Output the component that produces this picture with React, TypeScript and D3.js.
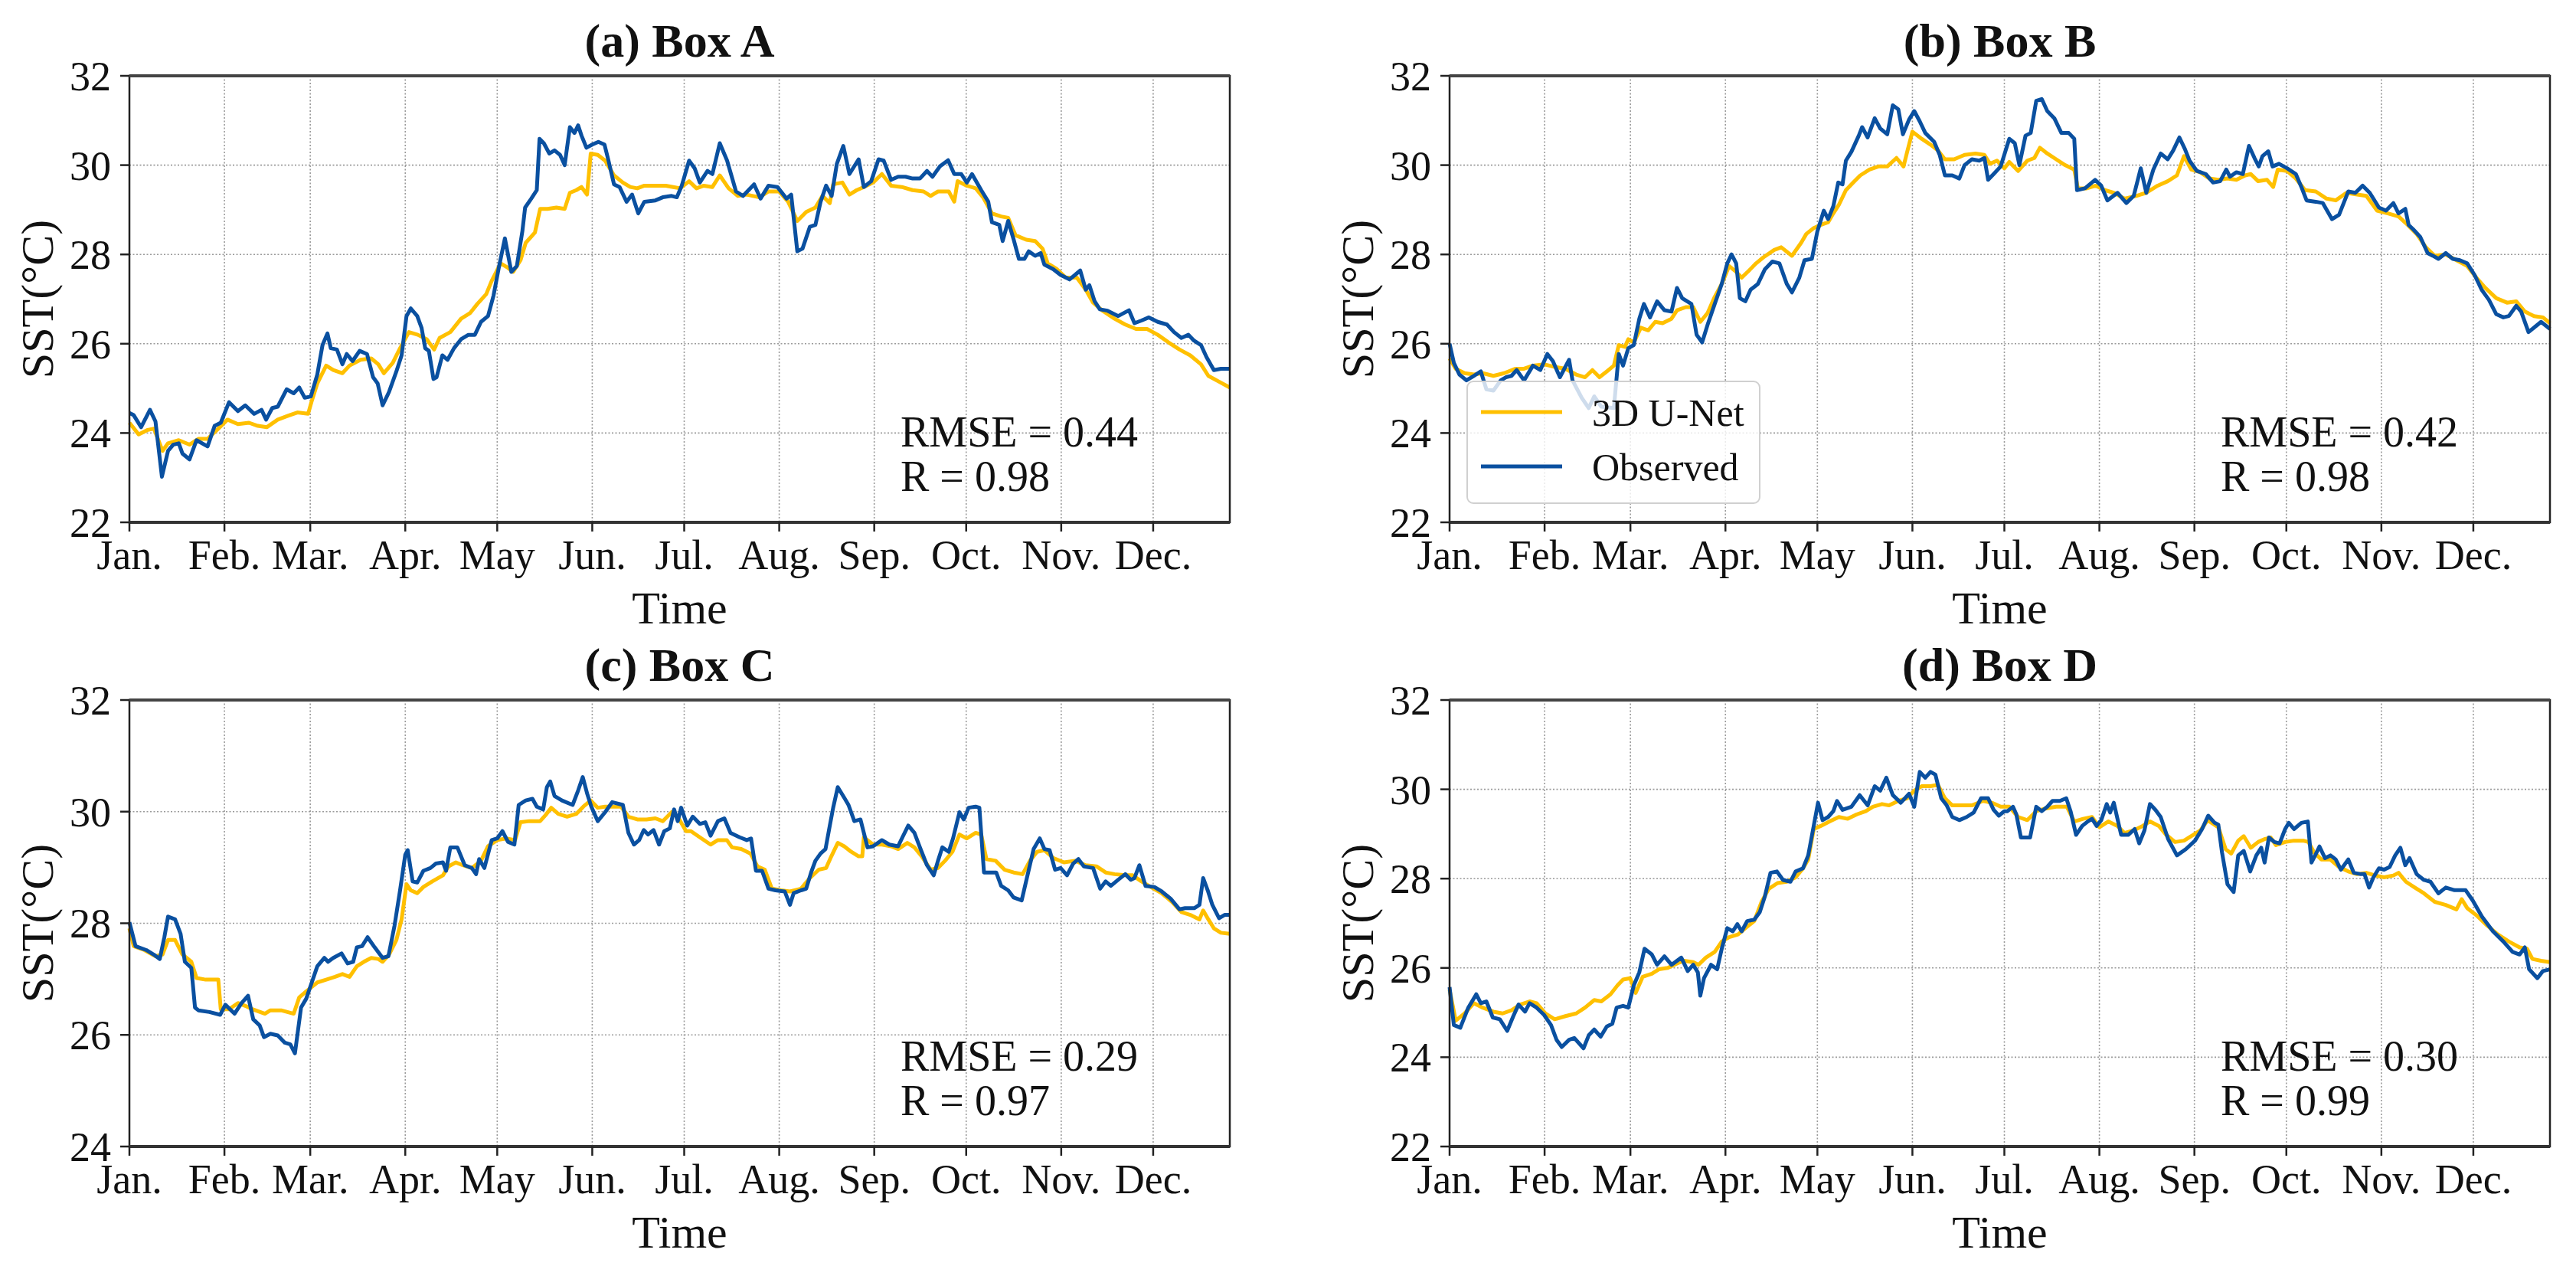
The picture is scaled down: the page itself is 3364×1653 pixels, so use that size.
// Four-panel SST comparison: 3D U-Net prediction vs observed, daily over one year.
import * as d3 from "d3";

type Pt = [number, number]; // [day of year, SST °C]

const MONTH_DAYS = [0, 31, 59, 90, 120, 151, 181, 212, 243, 273, 304, 334];
const MONTH_LABELS = ["Jan.", "Feb.", "Mar.", "Apr.", "May", "Jun.", "Jul.", "Aug.", "Sep.", "Oct.", "Nov.", "Dec."];
const LAST_DAY = 359;

const unetA: Pt[] = [[0,24.23],[3,23.97],[6,24.07],[8,24.1],[10.8,23.6],[12.6,23.77],[16.1,23.84],[19.6,23.74],[22.5,23.87],[25.5,23.87],[29,24.1],[32,24.3],[35.4,24.2],[39,24.23],[41.9,24.16],[44.8,24.13],[48.4,24.3],[51.9,24.39],[54.8,24.46],[58.3,24.43],[59.5,24.72],[61.3,25.11],[64.2,25.51],[66.5,25.41],[69.5,25.34],[71.8,25.51],[75.4,25.64],[78.9,25.67],[81.2,25.54],[83,25.34],[85.9,25.57],[88.3,25.9],[91.2,26.26],[94.1,26.2],[97,26.1],[99.4,25.87],[101.2,26.13],[104.7,26.26],[108.2,26.56],[111.2,26.69],[113.5,26.89],[116.4,27.11],[118.2,27.41],[121.1,27.8],[123.5,27.7],[125.2,27.61],[127.6,27.87],[129.3,28.26],[132.3,28.49],[134,29.02],[136.4,29.02],[139.3,29.05],[142,29.02],[143.7,29.38],[145.8,29.44],[147.5,29.51],[149.3,29.34],[150.5,30.26],[152.8,30.23],[155.2,30.1],[158.1,29.77],[161,29.61],[163.4,29.51],[165.7,29.48],[168,29.54],[171.6,29.54],[175,29.54],[177.4,29.51],[179.7,29.48],[182.6,29.64],[185,29.48],[187.4,29.54],[190.2,29.51],[192.6,29.77],[195.5,29.48],[198.5,29.31],[201.4,29.34],[205.5,29.28],[208.5,29.41],[212,29.41],[214.9,29.18],[217.9,28.75],[220.8,28.95],[223.8,29.05],[226.1,29.31],[228.5,29.15],[229.6,29.57],[232.6,29.61],[234.9,29.34],[237.3,29.44],[239.6,29.51],[242.6,29.61],[245.5,29.8],[248.5,29.54],[252,29.51],[255.5,29.44],[259.1,29.41],[261.4,29.31],[263.8,29.41],[267.3,29.41],[269.1,29.18],[270.2,29.64],[273.2,29.54],[276.1,29.48],[278.5,29.28],[281.4,28.92],[284.4,28.85],[286.7,28.82],[289.1,28.43],[292.6,28.33],[295.5,28.3],[297.9,28.13],[299.6,27.8],[302.6,27.67],[305.5,27.48],[309.1,27.48],[312,27.21],[314.4,26.92],[317.3,26.75],[321.4,26.56],[324.9,26.43],[328.4,26.33],[332,26.33],[335.5,26.2],[339,26.03],[342.6,25.87],[346.1,25.74],[349.6,25.54],[352,25.28],[355.5,25.15],[359,25.02]];
const obsA: Pt[] = [[0,24.45],[1.4,24.4],[3.8,24.13],[6.7,24.52],[8.5,24.26],[10.6,23.02],[12.6,23.6],[14.3,23.74],[16.1,23.77],[17.3,23.54],[19.6,23.41],[21.9,23.84],[25.5,23.7],[27.8,24.16],[29.8,24.23],[32.5,24.69],[35.4,24.49],[37.8,24.62],[40.7,24.43],[43.1,24.52],[44.6,24.3],[46.6,24.56],[48.4,24.59],[51.3,24.98],[53.6,24.89],[55.4,25.02],[57.2,24.79],[59.2,24.82],[61.3,25.31],[63,25.97],[64.6,26.23],[65.7,25.9],[67.7,25.87],[69.5,25.54],[70.9,25.77],[72.8,25.61],[75.1,25.84],[77.5,25.77],[79.5,25.25],[81,25.11],[82.6,24.62],[84.7,24.92],[87.1,25.38],[88.8,25.74],[90.4,26.62],[91.8,26.79],[93.9,26.62],[95.3,26.36],[96.5,25.9],[97.7,25.84],[99.2,25.21],[100.2,25.25],[102.1,25.74],[103.8,25.64],[105.9,25.9],[108.2,26.1],[110.6,26.2],[112.7,26.2],[114.7,26.49],[117,26.62],[118.8,27.08],[120.5,27.7],[122.5,28.36],[124.6,27.61],[126.4,27.74],[128.2,28.52],[129.1,29.05],[131.1,29.25],[132.9,29.44],[133.8,30.59],[135.2,30.49],[137,30.26],[138.7,30.33],[140.5,30.23],[142,30.0],[143.7,30.85],[145.2,30.72],[146.4,30.89],[147.5,30.66],[149.1,30.39],[151,30.46],[153,30.52],[155,30.46],[156.3,30.1],[158.1,29.57],[159.9,29.51],[162.2,29.18],[164,29.34],[166,28.92],[168,29.18],[171.6,29.21],[174,29.28],[176.9,29.31],[178.6,29.28],[180.2,29.54],[182.6,30.1],[184.4,29.93],[186.1,29.61],[188.6,29.87],[190.2,29.8],[192.6,30.49],[195,30.1],[197.9,29.41],[200.2,29.31],[203.8,29.57],[205.9,29.25],[208.5,29.54],[211.4,29.51],[214.4,29.25],[215.9,29.34],[217.9,28.07],[219.6,28.13],[222,28.62],[223.8,28.66],[225.5,29.18],[227.3,29.54],[229.1,29.31],[230.8,30.03],[232.9,30.43],[234.9,29.8],[237.9,30.13],[239.6,29.51],[242,29.64],[244.4,30.13],[246.1,30.1],[248.5,29.67],[250.8,29.74],[253.2,29.74],[255.5,29.7],[257.9,29.7],[260.2,29.87],[262,29.74],[264.4,29.97],[267.1,30.11],[269.1,29.8],[271.4,29.8],[273.2,29.61],[274.9,29.8],[277.9,29.44],[280.2,29.18],[281.4,28.72],[283.8,28.66],[284.9,28.3],[286.7,28.75],[288.5,28.33],[290.2,27.9],[292,27.9],[293.4,28.07],[295.5,27.97],[297.3,28.03],[298.5,27.77],[301.4,27.67],[303.8,27.54],[306.7,27.44],[308.5,27.54],[310.2,27.64],[312,27.21],[313.2,27.31],[314.9,26.95],[316.6,26.77],[319.1,26.74],[322.6,26.62],[326.1,26.75],[327.9,26.46],[330.2,26.52],[332.6,26.59],[335.5,26.49],[338.5,26.43],[340.8,26.26],[343.2,26.13],[345.5,26.2],[347.3,26.07],[349.6,25.97],[351.4,25.7],[353.8,25.41],[356.1,25.44],[359,25.44]];

const unetB: Pt[] = [[0,25.67],[2,25.44],[4.9,25.34],[7.9,25.31],[10.8,25.34],[14.3,25.28],[17.8,25.34],[21.4,25.44],[24.3,25.44],[27.2,25.51],[30.8,25.54],[34.3,25.48],[37.8,25.44],[41.3,25.31],[44.2,25.25],[46.6,25.41],[48.9,25.25],[51.3,25.38],[53.6,25.51],[55.2,25.97],[57.2,25.93],[58.3,26.1],[60.1,26.03],[62.4,26.36],[64.8,26.3],[67.1,26.49],[69.5,26.46],[72.4,26.56],[74.2,26.75],[77.1,26.82],[79.5,26.82],[81.8,26.49],[84.2,26.69],[86.5,27.05],[88.8,27.34],[91.2,27.74],[93.5,27.61],[95.3,27.48],[97.7,27.64],[100,27.8],[102.3,27.93],[105.9,28.1],[108.2,28.16],[111.7,27.97],[114.7,28.26],[116.4,28.46],[118.8,28.59],[121.1,28.66],[123.5,28.72],[125.2,28.92],[127,29.11],[129.3,29.44],[131.7,29.61],[134,29.77],[137,29.9],[139.9,29.97],[142.8,29.97],[145.8,30.16],[148.1,29.97],[149.3,30.3],[151,30.75],[154,30.59],[156.9,30.46],[159.3,30.33],[161.6,30.13],[164.6,30.13],[168,30.23],[171.6,30.26],[174.5,30.23],[176.3,30.03],[178.6,30.1],[181,29.93],[182.6,30.07],[185.5,29.87],[188.5,30.1],[190.8,30.16],[192.6,30.39],[195,30.26],[197.9,30.13],[200.8,30.0],[203.8,29.9],[205,29.48],[207.9,29.48],[210.8,29.54],[213.8,29.44],[216.7,29.38],[220.2,29.25],[224,29.31],[227.3,29.38],[231,29.54],[234.3,29.64],[237.3,29.77],[239.6,30.2],[242,29.9],[244.9,29.84],[247.9,29.7],[250.8,29.67],[253.8,29.7],[256.7,29.67],[259.6,29.77],[261.4,29.8],[263.8,29.64],[266.7,29.67],[268.7,29.51],[270.2,29.9],[273.2,29.87],[276.1,29.7],[279.1,29.44],[282.6,29.41],[286.1,29.25],[289.1,29.21],[292.6,29.38],[296.1,29.34],[299.1,29.31],[302.6,28.98],[306.1,28.92],[309.6,28.85],[312.6,28.66],[315.5,28.46],[318.5,28.16],[321.4,27.97],[325,28.0],[328.5,27.87],[332,27.74],[335,27.48],[337.9,27.25],[341.5,27.02],[345,26.92],[348,26.95],[350.8,26.72],[353.8,26.62],[356.7,26.59],[359,26.46]];
const obsB: Pt[] = [[0,26.0],[1.4,25.57],[3.2,25.31],[5.5,25.18],[7.9,25.28],[10.2,25.38],[12,24.98],[14.3,24.95],[16.7,25.18],[18.4,25.25],[20.2,25.28],[21.9,25.41],[24.3,25.18],[27.2,25.51],[29.6,25.41],[31.9,25.77],[33.7,25.61],[36,25.25],[39,25.64],[40.1,25.18],[43.1,24.79],[45.4,24.56],[47.2,24.82],[49.5,24.59],[53.6,24.56],[55.2,25.77],[56.6,25.51],[58.3,25.9],[60.1,25.97],[61.9,26.56],[63.4,26.89],[65.4,26.59],[67.7,26.95],[70.1,26.75],[72.4,26.72],[74.2,27.25],[75.9,27.02],[78.9,26.89],[80.6,26.2],[82.4,26.03],[84.2,26.43],[86.5,26.89],[88.8,27.34],[90.6,27.8],[92,28.0],[93.5,27.8],[94.7,27.02],[96.5,26.95],[98.2,27.21],[100.6,27.34],[102.9,27.67],[105.3,27.84],[107.6,27.8],[110,27.34],[111.7,27.15],[114.1,27.48],[115.8,27.87],[118.2,27.9],[120,28.52],[122.1,28.98],[123.5,28.79],[125.2,29.08],[126.8,29.61],[128.2,29.57],[129.3,30.1],[131.1,30.3],[133.5,30.66],[134.6,30.85],[136.4,30.62],[138.7,31.05],[140.5,30.82],[142.8,30.69],[144.6,31.34],[146.4,31.25],[147.9,30.69],[149.9,31.02],[151.6,31.21],[153.4,30.98],[155.2,30.72],[158.1,30.52],[159.9,30.23],[161.6,29.77],[164,29.77],[166.3,29.7],[168,30.0],[170.4,30.13],[172.8,30.1],[174.5,30.16],[175.7,29.67],[177.5,29.8],[179.8,29.97],[182.6,30.59],[184.4,30.49],[185.9,30.0],[187.9,30.66],[189.6,30.72],[191.4,31.44],[193.2,31.48],[195,31.21],[197.3,31.05],[199.6,30.72],[202,30.72],[203.8,30.59],[204.7,29.44],[207.3,29.48],[210.6,29.67],[212.6,29.54],[214.6,29.21],[217.9,29.38],[220.8,29.15],[223.2,29.31],[225.5,29.93],[227.3,29.38],[229.6,29.9],[232,30.26],[234.3,30.13],[236.1,30.33],[238.1,30.62],[239.9,30.36],[241.4,30.1],[243.8,29.87],[246.7,29.8],[249.1,29.61],[251.4,29.64],[253.4,29.9],[254.6,29.74],[256.7,29.84],[258.8,29.8],[260.8,30.43],[262.6,30.16],[264,29.97],[265.2,30.2],[267.1,30.31],[268.5,29.97],[270.6,30.03],[273.2,29.93],[276.1,29.8],[277.9,29.51],[279.6,29.21],[282.6,29.18],[284.9,29.15],[287.9,28.79],[290.2,28.89],[293.2,29.41],[295.5,29.38],[297.9,29.54],[300.2,29.38],[303.2,29.05],[305.5,28.98],[307.9,29.15],[309.6,28.92],[311.8,29.02],[312.9,28.66],[314.4,28.56],[316.7,28.39],[319.1,28.03],[320.8,27.97],[322.6,27.9],[325,28.03],[327.3,27.9],[329.6,27.87],[332,27.8],[334.4,27.54],[336.7,27.21],[339.1,26.98],[341.5,26.66],[343.8,26.59],[345.6,26.62],[348,26.85],[349.6,26.72],[352,26.26],[353.8,26.36],[356.1,26.49],[359,26.33]];

const unetC: Pt[] = [[0,27.91],[1.4,27.59],[4.9,27.52],[8.5,27.41],[10.8,27.44],[12.6,27.7],[14.9,27.7],[17.3,27.44],[20.2,27.31],[21.9,27.02],[24.9,26.99],[29,26.99],[29.8,26.46],[32.5,26.46],[35.4,26.57],[37.8,26.52],[40.1,26.46],[44.2,26.38],[46,26.44],[49.5,26.44],[53.6,26.38],[55.4,26.67],[57.7,26.78],[59.5,26.86],[61.3,26.94],[64.2,26.99],[67.1,27.04],[69.5,27.09],[71.8,27.04],[74.2,27.23],[76.5,27.31],[78.9,27.38],[81.2,27.36],[82.6,27.31],[84.7,27.44],[87.1,27.7],[88.8,28.07],[90.4,28.7],[91.8,28.59],[93.9,28.54],[95.9,28.65],[98.8,28.75],[102.3,28.86],[104.1,29.02],[106.5,29.09],[108.8,29.04],[111.7,28.99],[114.7,29.12],[117,29.38],[120,29.49],[122.9,29.52],[125.8,29.49],[127.6,29.81],[130.5,29.83],[134,29.83],[135.8,29.94],[137.6,30.07],[139.9,29.96],[142.8,29.91],[145.8,29.96],[148.1,30.09],[150.5,30.2],[152.8,30.07],[155.2,30.09],[158.1,30.09],[160.4,30.09],[162.8,29.91],[165.7,29.86],[168.7,29.86],[171.6,29.88],[174,29.83],[176.9,29.99],[179.2,29.88],[181.6,29.65],[183.2,29.65],[186.1,29.54],[189.6,29.41],[192,29.49],[194.9,29.49],[196.6,29.36],[199.6,29.33],[202.6,29.25],[204.9,29.02],[207.3,28.96],[209.6,28.62],[212.6,28.59],[215.5,28.57],[219.1,28.62],[222,28.81],[224.9,28.96],[227.3,28.99],[229,29.2],[231.1,29.44],[233.2,29.38],[235.5,29.28],[237.9,29.2],[239.1,29.2],[239.6,29.54],[242.6,29.41],[245.5,29.41],[248.5,29.38],[250.8,29.33],[253.8,29.44],[256.1,29.36],[258.5,29.2],[261.4,28.96],[263.8,28.99],[266.1,29.12],[268.5,29.28],[270.8,29.59],[273.2,29.52],[276.1,29.62],[277.9,29.59],[279.6,29.15],[282.6,29.12],[285.5,28.96],[288.5,28.91],[291.4,28.88],[293.8,29.12],[296.1,29.28],[298.5,29.31],[301.4,29.17],[304.9,29.09],[308.5,29.12],[312,29.04],[315.5,29.02],[318.5,28.91],[321.4,28.88],[325,28.86],[327.3,28.86],[330.2,28.75],[333.2,28.65],[336.7,28.54],[340.2,28.38],[343.2,28.2],[346.1,28.15],[349.1,28.07],[350.3,28.23],[352,28.07],[353.8,27.91],[356.1,27.83],[359,27.81]];
const obsC: Pt[] = [[0,28.02],[2,27.59],[5.5,27.52],[7.9,27.44],[9.9,27.36],[11.4,27.75],[12.6,28.12],[14.9,28.07],[16.7,27.81],[18.1,27.31],[20.2,27.2],[21.4,26.49],[22.5,26.44],[26.1,26.41],[29.6,26.36],[31.3,26.54],[34.3,26.38],[36.6,26.57],[38.7,26.7],[40.4,26.28],[42.5,26.17],[43.9,25.96],[46,26.02],[48.4,25.99],[50.7,25.86],[52.5,25.83],[54,25.67],[56,26.49],[57.7,26.65],[59.5,26.94],[61.3,27.23],[63.6,27.38],[64.8,27.31],[66.5,27.38],[69.2,27.46],[71.2,27.28],[73,27.31],[74.2,27.57],[75.9,27.59],[77.7,27.75],[80,27.57],[82.6,27.38],[84.5,27.41],[86.5,27.96],[88.3,28.59],[90,29.23],[90.8,29.31],[92.4,28.75],[93.9,28.73],[95.9,28.94],[98.2,28.99],[100,29.07],[102.3,29.09],[103.3,28.94],[104.7,29.36],[107,29.36],[109.4,29.04],[111.7,28.99],[113.1,28.88],[114.1,29.15],[115.8,28.99],[118.2,29.49],[120,29.52],[121.7,29.65],[123.5,29.46],[125.6,29.41],[127,30.12],[129.3,30.2],[131.5,30.23],[132.9,30.09],[135,30.04],[136.2,30.44],[137.3,30.54],[138.7,30.28],[141.1,30.2],[144.6,30.12],[146.4,30.38],[147.9,30.62],[149.3,30.33],[150.7,30.09],[152.8,29.83],[155.2,29.99],[157.5,30.17],[161,30.12],[162.8,29.62],[164.6,29.41],[166.3,29.49],[167.8,29.67],[169.2,29.59],[171,29.67],[172.8,29.41],[174.5,29.65],[176.3,29.7],[177.7,30.04],[178.9,29.83],[180,30.07],[182,29.75],[183.8,29.91],[186.1,29.78],[187.9,29.81],[189.6,29.57],[192,29.83],[194.1,29.88],[196.1,29.62],[199.1,29.54],[201.4,29.49],[202.8,29.52],[204.4,28.94],[206.4,28.94],[208.5,28.62],[210.8,28.59],[213.8,28.57],[215.5,28.33],[216.7,28.54],[219.1,28.59],[220.8,28.62],[222.4,28.91],[223.8,29.12],[225.5,29.25],[227.1,29.33],[228.5,29.75],[229.6,30.07],[231.1,30.44],[233.2,30.25],[234.6,30.12],[236.5,29.83],[238.5,29.86],[240.8,29.36],[242.6,29.38],[245.5,29.49],[247.9,29.41],[250.8,29.38],[252.2,29.54],[254.1,29.75],[256.1,29.62],[257.9,29.36],[260.2,29.04],[262.4,28.86],[263.8,29.12],[265.2,29.36],[267.3,29.28],[268.7,29.52],[270.8,29.99],[272.2,29.86],[273.8,30.07],[276.1,30.09],[277.3,30.07],[278.8,28.91],[280.8,28.91],[282.8,28.91],[284.4,28.67],[286.7,28.59],[288.5,28.46],[291.1,28.41],[293,28.86],[295,29.33],[297,29.52],[298.5,29.33],[300.2,29.31],[302,28.96],[303.8,28.99],[305.9,28.86],[307.9,29.07],[309.6,29.15],[311.4,29.02],[314.4,28.99],[316.7,28.62],[318.5,28.75],[320.2,28.67],[322.6,28.78],[324.9,28.88],[326.7,28.78],[327.9,28.81],[329.5,29.04],[331.5,28.67],[334.4,28.65],[336.8,28.57],[339.7,28.44],[342.6,28.25],[344.4,28.27],[347.4,28.27],[349.1,28.33],[350.3,28.81],[351.8,28.59],[353.3,28.33],[355.5,28.09],[357.3,28.15],[359,28.15]];

const unetD: Pt[] = [[0,25.51],[2,24.82],[4.9,24.98],[7.9,25.21],[10.8,25.11],[14.3,25.02],[17.3,24.98],[20.2,25.05],[23.1,25.18],[26.1,25.25],[28.4,25.21],[31.3,24.98],[34.3,24.85],[37.8,24.92],[41.3,24.98],[44.2,25.11],[47.2,25.28],[49.5,25.25],[52.5,25.41],[54.8,25.61],[56.6,25.74],[58.9,25.77],[60.7,25.44],[63,25.8],[66,25.87],[68.3,25.97],[71.2,26.0],[74.2,26.1],[76.5,26.16],[79.5,26.13],[81.2,26.07],[83.6,26.23],[86.5,26.36],[88.8,26.59],[91.2,26.69],[94.1,26.75],[96.5,26.89],[99.4,27.05],[101.8,27.48],[104.1,27.77],[107,27.9],[110,27.93],[112.9,28.03],[115.3,28.23],[117,28.43],[118.8,29.11],[121.1,29.18],[124,29.28],[127,29.38],[129.9,29.34],[132.9,29.44],[135.8,29.51],[138.1,29.61],[141.1,29.67],[143.4,29.64],[146.4,29.74],[149.3,29.8],[151.6,29.97],[154,30.07],[156.9,30.07],[159.3,30.1],[161.6,29.8],[164,29.64],[166.9,29.64],[170.4,29.64],[174,29.74],[176.9,29.7],[179.8,29.61],[182.6,29.61],[185.5,29.38],[188.5,29.31],[191.4,29.51],[194.4,29.57],[197.9,29.61],[201.4,29.61],[203.8,29.28],[206.7,29.34],[209.6,29.38],[212,29.15],[214.9,29.28],[217.9,29.18],[220.2,29.02],[223.2,29.08],[226.1,29.18],[228.5,29.28],[231.4,29.18],[233.8,28.98],[236.7,28.82],[239.6,28.85],[242.6,28.98],[245,29.08],[247.3,29.31],[250.8,29.15],[253.2,28.66],[255,28.56],[257.3,28.85],[259.1,28.95],[261.4,28.69],[263.8,28.82],[266.1,28.89],[267.9,28.92],[269.6,28.75],[272.6,28.82],[275.5,28.85],[278.5,28.85],[280.2,28.82],[282,28.59],[284.4,28.43],[287.3,28.43],[290.2,28.26],[293.2,28.16],[296.1,28.1],[299.1,28.13],[302,28.07],[304.9,28.03],[307.9,28.07],[309.6,28.13],[312,27.93],[314.9,27.8],[317.9,27.67],[321.4,27.48],[325,27.41],[328.5,27.31],[330.2,27.54],[332,27.34],[335,27.18],[338.5,26.95],[342,26.75],[345.6,26.59],[349.1,26.46],[351.5,26.43],[353.3,26.2],[356.1,26.16],[359,26.13]];
const obsD: Pt[] = [[0,25.57],[1.4,24.72],[3.5,24.66],[6.1,25.11],[8.7,25.41],[10.2,25.21],[12,25.25],[14.1,24.89],[16.4,24.85],[18.8,24.59],[20.8,24.92],[22.5,25.18],[24.6,25.02],[26.1,25.21],[28.4,25.11],[30.8,24.95],[33.1,24.72],[34.9,24.39],[36.6,24.23],[39,24.39],[40.7,24.43],[43.7,24.2],[45.4,24.49],[47.2,24.62],[49.3,24.46],[51.3,24.69],[53.1,24.75],[54.5,25.11],[56.6,25.15],[58.3,25.11],[60.1,25.61],[61.9,25.9],[63.6,26.43],[66,26.3],[67.7,26.07],[70.1,26.26],[72.4,26.07],[75.6,26.23],[77.7,25.93],[79.5,26.07],[81,25.9],[81.8,25.38],[83,25.77],[85.3,26.07],[87.3,25.97],[88.8,26.43],[90.6,26.89],[92.4,26.82],[93.9,26.98],[95.3,26.82],[97.1,27.05],[99.4,27.08],[101.2,27.25],[102.9,27.61],[104.7,28.13],[106.8,28.16],[108.8,27.97],[111.2,27.93],[112.9,28.16],[115.3,28.23],[117,28.52],[118.8,29.18],[120.2,29.7],[121.7,29.31],[123.5,29.38],[125.2,29.51],[126.4,29.74],[128.2,29.54],[131.1,29.61],[133.8,29.87],[136.4,29.64],[138.7,30.07],[140.5,29.97],[142.5,30.26],[144.6,29.87],[147.2,29.7],[149.9,29.9],[151.6,29.61],[153.4,30.39],[155.2,30.26],[156.9,30.39],[158.5,30.33],[160.4,29.8],[162.2,29.64],[164,29.38],[166.3,29.31],[168.7,29.38],[171,29.48],[173.4,29.8],[175.7,29.8],[177.5,29.54],[179.2,29.41],[181,29.51],[182,29.51],[183.8,29.61],[184.9,29.44],[186.4,28.92],[189.4,28.92],[191.4,29.61],[193.2,29.51],[195,29.61],[196.7,29.74],[199.1,29.74],[201.2,29.8],[202.6,29.51],[204.4,28.98],[206.4,29.18],[208.2,29.28],[209.6,29.34],[211.1,29.18],[212.6,29.31],[214.4,29.67],[215.5,29.48],[216.7,29.7],[219.1,28.98],[221.4,28.98],[223.5,29.11],[225,28.79],[226.7,29.08],[228.5,29.67],[230.3,29.54],[232,29.38],[234.4,28.89],[237.3,28.52],[240.2,28.66],[243.2,28.85],[245.5,29.11],[247.5,29.41],[249.6,29.25],[250.8,29.21],[252,28.59],[253.8,27.87],[255.8,27.7],[257.3,28.52],[259.1,28.62],[261.2,28.16],[263.2,28.52],[264.8,28.69],[265.9,28.36],[267.3,28.92],[269.1,28.82],[270.8,28.79],[272.6,29.11],[273.8,29.25],[275.5,29.11],[277.9,29.25],[280,29.28],[281.2,28.36],[282.4,28.52],[283.8,28.72],[285.6,28.46],[287.4,28.52],[289.1,28.43],[290.8,28.2],[293.2,28.43],[295,28.13],[297.3,28.1],[298.5,28.1],[300,27.8],[301.4,28.03],[303.2,28.23],[304.9,28.2],[306.7,28.26],[308.5,28.52],[310.2,28.69],[311.8,28.3],[313.2,28.46],[315.5,28.1],[317.9,27.97],[320,27.93],[322.6,27.67],[325,27.8],[327.9,27.74],[331.5,27.74],[333.8,27.51],[336.8,27.15],[340.4,26.82],[343.8,26.59],[346.8,26.36],[349.1,26.3],[350.8,26.46],[352.2,25.97],[354.9,25.77],[356.7,25.93],[359,25.97]];

const TITLES = ["(a) Box A", "(b) Box B", "(c) Box C", "(d) Box D"];
const RMSE = ["0.44", "0.42", "0.29", "0.30"];
const R_VALUES = ["0.98", "0.98", "0.97", "0.99"];
const Y_DOMAINS: [number, number][] = [[22, 32], [22, 32], [24, 32], [22, 32]];
const SERIES_NAMES = ["3D U-Net", "Observed"];

const W = 3364;
const H = 1653;
const PW = 1437;
const PH = 583;
const UNET_COLOR = "#ffc000";
const OBS_COLOR = "#0a50a0";
const FONT = "'Liberation Serif', 'Times New Roman', Times, serif";

function Panel({
  left, top, title, unet, obs, yDomain, rmse, r, legend,
}: {
  left: number; top: number; title: string; unet: Pt[]; obs: Pt[];
  yDomain: [number, number]; rmse: string; r: string; legend: boolean;
}) {
  const x = d3.scaleLinear().domain([0, LAST_DAY]).range([0, PW]);
  const y = d3.scaleLinear().domain(yDomain).range([PH, 0]);
  const line = d3.line<Pt>().x((d) => x(d[0])).y((d) => y(d[1]));
  const yTicks = d3.range(yDomain[0], yDomain[1] + 0.01, 2);

  return (
    <g transform={`translate(${left},${top})`} fontFamily={FONT}>
      {/* grid */}
      {MONTH_DAYS.map((d) => (
        <line key={`gx${d}`} x1={x(d)} x2={x(d)} y1={0} y2={PH}
          stroke="#9a9a9a" strokeWidth={1.6} strokeDasharray="2,2.5" />
      ))}
      {yTicks.map((v) => (
        <line key={`gy${v}`} x1={0} x2={PW} y1={y(v)} y2={y(v)}
          stroke="#9a9a9a" strokeWidth={1.6} strokeDasharray="2,2.5" />
      ))}

      <path d={line(unet) ?? ""} fill="none" stroke={UNET_COLOR} strokeWidth={5} strokeLinejoin="round" />
      <path d={line(obs) ?? ""} fill="none" stroke={OBS_COLOR} strokeWidth={5} strokeLinejoin="round" />

      {/* frame */}
      <rect x={0} y={0} width={PW} height={PH} fill="none" stroke="#222" strokeWidth={2.5} />
      <line x1={0} x2={PW} y1={0} y2={0} stroke="#444" strokeWidth={4} />
      <line x1={0} x2={PW} y1={PH} y2={PH} stroke="#333" strokeWidth={4} />

      {/* x axis */}
      {MONTH_DAYS.map((d, i) => (
        <g key={`xt${d}`} transform={`translate(${x(d)},0)`}>
          <line y1={PH} y2={PH + 12} stroke="#222" strokeWidth={2.5} />
          <text y={PH + 61} textAnchor="middle" fontSize={54} fill="#111">{MONTH_LABELS[i]}</text>
        </g>
      ))}
      <text x={PW / 2} y={PH + 132} textAnchor="middle" fontSize={60} fill="#111">Time</text>

      {/* y axis */}
      {yTicks.map((v) => (
        <g key={`yt${v}`} transform={`translate(0,${y(v)})`}>
          <line x1={-12} x2={0} stroke="#222" strokeWidth={2.5} />
          <text x={-24} dy="0.35em" textAnchor="end" fontSize={54} fill="#111">{v}</text>
        </g>
      ))}
      <text transform={`translate(${-121},${PH / 2}) rotate(-90)`} textAnchor="middle" dy="0.35em"
        fontSize={60} fill="#111">SST(°C)</text>

      <text x={PW / 2} y={-25} textAnchor="middle" fontSize={62} fontWeight="bold" fill="#111">{title}</text>

      <text x={1007} y={PH - 99} fontSize={56} fill="#111">RMSE = {rmse}</text>
      <text x={1007} y={PH - 41} fontSize={56} fill="#111">R = {r}</text>

      {legend && (
        <g>
          <rect x={23} y={PH - 184} width={382} height={159} rx={8}
            fill="#fff" fillOpacity={0.8} stroke="#d0d0d0" strokeWidth={2} />
          {[UNET_COLOR, OBS_COLOR].map((c, i) => (
            <g key={c} transform={`translate(0,${PH - 144 + i * 71})`}>
              <line x1={41} x2={147} stroke={c} strokeWidth={5} />
              <text x={186} dy="0.35em" fontSize={50} fill="#111">{SERIES_NAMES[i]}</text>
            </g>
          ))}
        </g>
      )}
    </g>
  );
}

export default function App() {
  const panels = [
    { left: 169, top: 99, unet: unetA, obs: obsA },
    { left: 1893, top: 99, unet: unetB, obs: obsB },
    { left: 169, top: 914, unet: unetC, obs: obsC },
    { left: 1893, top: 914, unet: unetD, obs: obsD },
  ];
  return (
    <svg width={W} height={H} viewBox={`0 0 ${W} ${H}`}
      style={{ position: "absolute", left: 0, top: 0, background: "#fff" }}>
      <rect width={W} height={H} fill="#fff" />
      {panels.map((p, i) => (
        <Panel key={i} left={p.left} top={p.top} title={TITLES[i]} unet={p.unet} obs={p.obs}
          yDomain={Y_DOMAINS[i]} rmse={RMSE[i]} r={R_VALUES[i]} legend={i === 1} />
      ))}
    </svg>
  );
}
